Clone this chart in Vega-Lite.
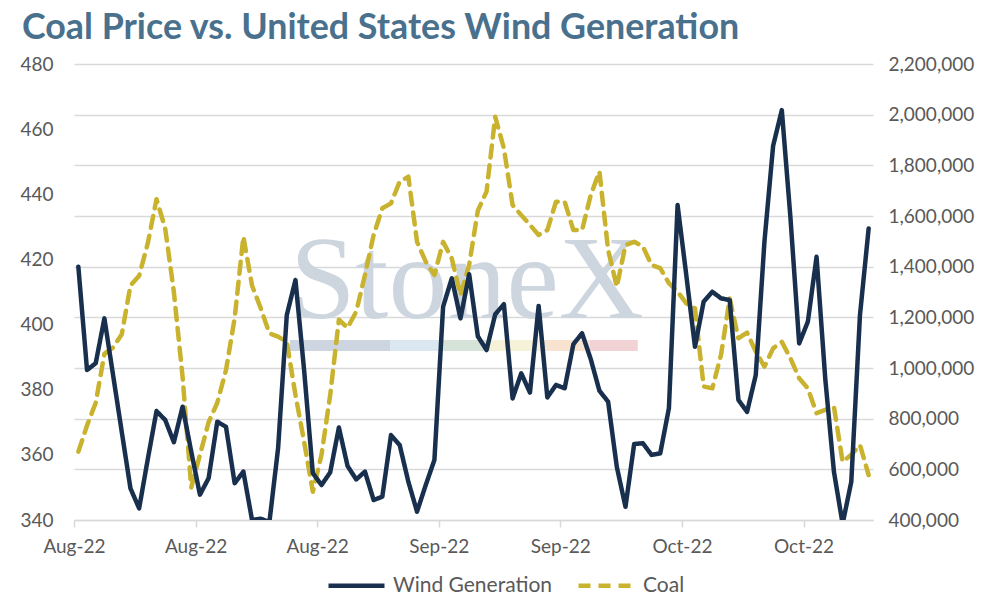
{
  "$schema": "https://vega.github.io/schema/vega-lite/v6.json",
  "width": 799,
  "height": 456,
  "autosize": "none",
  "padding": {"left": 74, "top": 64, "right": 121, "bottom": 80},
  "background": "white",
  "config": {
    "font": "Lato",
    "view": {"stroke": null},
    "axis": {"labelFont": "Lato", "labelFontSize": 19, "labelColor": "#595959"}
  },
  "title": {
    "text": "Coal Price vs. United States Wind Generation",
    "anchor": "start",
    "frame": "group",
    "dx": -52,
    "dy": 30,
    "offset": 10,
    "baseline": "alphabetic",
    "font": "Lato",
    "fontSize": 35.8,
    "fontWeight": "bold",
    "color": "#49708c"
  },
  "data": {
    "values": [
      {"date": "2022-08-01", "wind": 1400000, "coal": 361},
      {"date": "2022-08-02", "wind": 992000, "coal": 369},
      {"date": "2022-08-03", "wind": 1019000, "coal": 376},
      {"date": "2022-08-04", "wind": 1196000, "coal": 391},
      {"date": "2022-08-05", "wind": 972000, "coal": 393},
      {"date": "2022-08-06", "wind": 748000, "coal": 397},
      {"date": "2022-08-07", "wind": 525000, "coal": 412},
      {"date": "2022-08-08", "wind": 446000, "coal": 415},
      {"date": "2022-08-09", "wind": 641000, "coal": 425},
      {"date": "2022-08-10", "wind": 830000, "coal": 438.5},
      {"date": "2022-08-11", "wind": 795000, "coal": 429.5},
      {"date": "2022-08-12", "wind": 707000, "coal": 410},
      {"date": "2022-08-13", "wind": 847000, "coal": 384},
      {"date": "2022-08-14", "wind": 670000, "coal": 350},
      {"date": "2022-08-15", "wind": 500000, "coal": 360},
      {"date": "2022-08-16", "wind": 565000, "coal": 370},
      {"date": "2022-08-17", "wind": 788000, "coal": 376},
      {"date": "2022-08-18", "wind": 768000, "coal": 386},
      {"date": "2022-08-19", "wind": 545000, "coal": 402},
      {"date": "2022-08-20", "wind": 591000, "coal": 427},
      {"date": "2022-08-21", "wind": 400000, "coal": 412},
      {"date": "2022-08-22", "wind": 405000, "coal": 405},
      {"date": "2022-08-23", "wind": 392000, "coal": 397.3},
      {"date": "2022-08-24", "wind": 683000, "coal": 396.3},
      {"date": "2022-08-25", "wind": 1209000, "coal": 394.7},
      {"date": "2022-08-26", "wind": 1347000, "coal": 378.4},
      {"date": "2022-08-27", "wind": 990000, "coal": 364},
      {"date": "2022-08-28", "wind": 585000, "coal": 348.7},
      {"date": "2022-08-29", "wind": 538000, "coal": 360},
      {"date": "2022-08-30", "wind": 588000, "coal": 378.4},
      {"date": "2022-08-31", "wind": 765000, "coal": 401.5},
      {"date": "2022-09-01", "wind": 613000, "coal": 399},
      {"date": "2022-09-02", "wind": 560000, "coal": 404},
      {"date": "2022-09-03", "wind": 591000, "coal": 415.2},
      {"date": "2022-09-04", "wind": 479000, "coal": 427.5},
      {"date": "2022-09-05", "wind": 492000, "coal": 435.7},
      {"date": "2022-09-06", "wind": 735000, "coal": 437.2},
      {"date": "2022-09-07", "wind": 696000, "coal": 443.9},
      {"date": "2022-09-08", "wind": 551000, "coal": 445.4},
      {"date": "2022-09-09", "wind": 433000, "coal": 425.4},
      {"date": "2022-09-10", "wind": 538000, "coal": 419.3},
      {"date": "2022-09-11", "wind": 637000, "coal": 415.2},
      {"date": "2022-09-12", "wind": 1242000, "coal": 425.4},
      {"date": "2022-09-13", "wind": 1354000, "coal": 420.3},
      {"date": "2022-09-14", "wind": 1196000, "coal": 409},
      {"date": "2022-09-15", "wind": 1370000, "coal": 418.3},
      {"date": "2022-09-16", "wind": 1125000, "coal": 435},
      {"date": "2022-09-17", "wind": 1071000, "coal": 440.8},
      {"date": "2022-09-18", "wind": 1212000, "coal": 463.8},
      {"date": "2022-09-19", "wind": 1252000, "coal": 454.1},
      {"date": "2022-09-20", "wind": 880000, "coal": 436.7},
      {"date": "2022-09-21", "wind": 979000, "coal": 433.6},
      {"date": "2022-09-22", "wind": 903000, "coal": 430.6},
      {"date": "2022-09-23", "wind": 1245000, "coal": 427.5},
      {"date": "2022-09-24", "wind": 884000, "coal": 429},
      {"date": "2022-09-25", "wind": 933000, "coal": 437.7},
      {"date": "2022-09-26", "wind": 920000, "coal": 437.7},
      {"date": "2022-09-27", "wind": 1094000, "coal": 429},
      {"date": "2022-09-28", "wind": 1137000, "coal": 429},
      {"date": "2022-09-29", "wind": 1035000, "coal": 439.8},
      {"date": "2022-09-30", "wind": 910000, "coal": 447},
      {"date": "2022-10-01", "wind": 867000, "coal": 422.9},
      {"date": "2022-10-02", "wind": 610000, "coal": 411.6},
      {"date": "2022-10-03", "wind": 452000, "coal": 424.4},
      {"date": "2022-10-04", "wind": 700000, "coal": 425.4},
      {"date": "2022-10-05", "wind": 703000, "coal": 424},
      {"date": "2022-10-06", "wind": 657000, "coal": 418.3},
      {"date": "2022-10-07", "wind": 663000, "coal": 417.3},
      {"date": "2022-10-08", "wind": 841000, "coal": 412.7},
      {"date": "2022-10-09", "wind": 1643000, "coal": 410.1},
      {"date": "2022-10-10", "wind": 1367000, "coal": 406.5},
      {"date": "2022-10-11", "wind": 1084000, "coal": 405},
      {"date": "2022-10-12", "wind": 1262000, "coal": 381},
      {"date": "2022-10-13", "wind": 1301000, "coal": 380.4},
      {"date": "2022-10-14", "wind": 1275000, "coal": 390.7},
      {"date": "2022-10-15", "wind": 1268000, "coal": 408},
      {"date": "2022-10-16", "wind": 874000, "coal": 395.8},
      {"date": "2022-10-17", "wind": 827000, "coal": 397.5},
      {"date": "2022-10-18", "wind": 972000, "coal": 391.7},
      {"date": "2022-10-19", "wind": 1499000, "coal": 387.1},
      {"date": "2022-10-20", "wind": 1877000, "coal": 392.7},
      {"date": "2022-10-21", "wind": 2018000, "coal": 394.7},
      {"date": "2022-10-22", "wind": 1591000, "coal": 389.6},
      {"date": "2022-10-23", "wind": 1097000, "coal": 383.5},
      {"date": "2022-10-24", "wind": 1183000, "coal": 380.4},
      {"date": "2022-10-25", "wind": 1439000, "coal": 372.8},
      {"date": "2022-10-26", "wind": 959000, "coal": 373.8},
      {"date": "2022-10-27", "wind": 591000, "coal": 374.8},
      {"date": "2022-10-28", "wind": 385000, "coal": 357.9},
      {"date": "2022-10-29", "wind": 551000, "coal": 360},
      {"date": "2022-10-30", "wind": 1209000, "coal": 363},
      {"date": "2022-10-31", "wind": 1551000, "coal": 353.8}
    ]
  },
  "layer": [
    {
      "layer": [
        {
          "data": {"values": [{}]},
          "mark": {"type": "text", "text": "StoneX", "font": "Liberation Serif", "fontSize": 118, "color": "#cdd6df", "align": "center", "baseline": "alphabetic"},
          "encoding": {
            "x": {
              "datum": {"year": 2022, "month": 9, "date": 15, "hours": 6, "utc": true},
              "type": "temporal",
              "scale": {"type": "utc", "domain": [{"year": 2022, "month": 8, "date": 1, "utc": true}, {"year": 2022, "month": 11, "date": 1, "utc": true}]},
              "axis": {"values": [{"year": 2022, "month": 8, "date": 1, "utc": true}, {"year": 2022, "month": 8, "date": 15, "utc": true}, {"year": 2022, "month": 8, "date": 29, "utc": true}, {"year": 2022, "month": 9, "date": 12, "utc": true}, {"year": 2022, "month": 9, "date": 26, "utc": true}, {"year": 2022, "month": 10, "date": 10, "utc": true}, {"year": 2022, "month": 10, "date": 24, "utc": true}], "labelExpr": "utcFormat(datum.value, '%b-%y')", "grid": false, "domainColor": "#d9d9d9", "domainWidth": 1.5, "tickColor": "#d9d9d9", "tickSize": 7, "tickWidth": 1.5, "labelPadding": 10, "labelFlush": false, "labelOverlap": false, "title": null}
            },
            "y": {
              "datum": 402,
              "type": "quantitative",
              "scale": {"domain": [340, 480], "nice": false, "zero": false},
              "axis": {"orient": "left", "values": [340, 360, 380, 400, 420, 440, 460, 480], "grid": false, "domain": false, "ticks": false, "tickSize": 0, "labelPadding": 21, "title": null}
            }
          }
        },
        {
          "data": {"values": [{}]},
          "mark": {
            "type": "rect",
            "color": {
              "gradient": "linear", "x1": 0, "x2": 1, "y1": 0, "y2": 0,
              "stops": [
                {"offset": 0, "color": "#ccd5e0"}, {"offset": 0.287, "color": "#ccd5e0"},
                {"offset": 0.287, "color": "#dbe8f2"}, {"offset": 0.431, "color": "#dbe8f2"},
                {"offset": 0.431, "color": "#d5e3d8"}, {"offset": 0.575, "color": "#d5e3d8"},
                {"offset": 0.575, "color": "#f6f2d8"}, {"offset": 0.718, "color": "#f6f2d8"},
                {"offset": 0.718, "color": "#f8e3d0"}, {"offset": 0.862, "color": "#f8e3d0"},
                {"offset": 0.862, "color": "#f1d3d5"}, {"offset": 1, "color": "#f1d3d5"}
              ]
            }
          },
          "encoding": {
            "x": {
              "datum": {"year": 2022, "month": 8, "date": 25, "hours": 21, "utc": true},
              "type": "temporal",
              "scale": {"type": "utc", "domain": [{"year": 2022, "month": 8, "date": 1, "utc": true}, {"year": 2022, "month": 11, "date": 1, "utc": true}]},
              "axis": {"values": [{"year": 2022, "month": 8, "date": 1, "utc": true}, {"year": 2022, "month": 8, "date": 15, "utc": true}, {"year": 2022, "month": 8, "date": 29, "utc": true}, {"year": 2022, "month": 9, "date": 12, "utc": true}, {"year": 2022, "month": 9, "date": 26, "utc": true}, {"year": 2022, "month": 10, "date": 10, "utc": true}, {"year": 2022, "month": 10, "date": 24, "utc": true}], "labelExpr": "utcFormat(datum.value, '%b-%y')", "grid": false, "domainColor": "#d9d9d9", "domainWidth": 1.5, "tickColor": "#d9d9d9", "tickSize": 7, "tickWidth": 1.5, "labelPadding": 10, "labelFlush": false, "labelOverlap": false, "title": null}
            },
            "x2": {"datum": {"year": 2022, "month": 10, "date": 4, "hours": 22, "utc": true}},
            "y": {
              "datum": 395.3,
              "type": "quantitative",
              "scale": {"domain": [340, 480], "nice": false, "zero": false},
              "axis": {"orient": "left", "values": [340, 360, 380, 400, 420, 440, 460, 480], "grid": false, "domain": false, "ticks": false, "tickSize": 0, "labelPadding": 21, "title": null}
            },
            "y2": {"datum": 391.9}
          }
        },
        {
          "transform": [{"fold": ["coal"], "as": ["series", "value"]}],
          "mark": {"type": "line", "strokeWidth": 4.5, "strokeCap": "round", "strokeJoin": "round", "clip": true},
          "encoding": {
            "x": {
              "field": "date",
              "timeUnit": "utcyearmonthdate",
              "type": "temporal",
              "bandPosition": 0.5,
              "scale": {"type": "utc", "domain": [{"year": 2022, "month": 8, "date": 1, "utc": true}, {"year": 2022, "month": 11, "date": 1, "utc": true}]},
              "axis": {"values": [{"year": 2022, "month": 8, "date": 1, "utc": true}, {"year": 2022, "month": 8, "date": 15, "utc": true}, {"year": 2022, "month": 8, "date": 29, "utc": true}, {"year": 2022, "month": 9, "date": 12, "utc": true}, {"year": 2022, "month": 9, "date": 26, "utc": true}, {"year": 2022, "month": 10, "date": 10, "utc": true}, {"year": 2022, "month": 10, "date": 24, "utc": true}], "labelExpr": "utcFormat(datum.value, '%b-%y')", "grid": false, "domainColor": "#d9d9d9", "domainWidth": 1.5, "tickColor": "#d9d9d9", "tickSize": 7, "tickWidth": 1.5, "labelPadding": 10, "labelFlush": false, "labelOverlap": false, "title": null}
            },
            "y": {
              "field": "value",
              "type": "quantitative",
              "scale": {"domain": [340, 480], "nice": false, "zero": false},
              "axis": {"orient": "left", "values": [340, 360, 380, 400, 420, 440, 460, 480], "grid": false, "domain": false, "ticks": false, "tickSize": 0, "labelPadding": 21, "title": null}
            },
            "color": {
              "field": "series",
              "type": "nominal",
              "scale": {"domain": ["wind", "coal"], "range": ["#18304e", "#c9b22e"]},
              "legend": {"title": null, "orient": "none", "legendX": 252, "legendY": 491, "direction": "horizontal", "symbolType": "stroke", "symbolSize": 3136, "symbolStrokeWidth": 4.5, "labelFont": "Lato", "labelFontSize": 21, "labelColor": "#595959", "labelOffset": 6, "columnPadding": 16, "labelExpr": "datum.value == 'wind' ? 'Wind Generation' : 'Coal'"}
            },
            "strokeDash": {
              "field": "series",
              "type": "nominal",
              "scale": {"domain": ["wind", "coal"], "range": [[1, 0], [12, 8]]},
              "legend": {"title": null, "orient": "none", "legendX": 252, "legendY": 491, "direction": "horizontal", "symbolType": "stroke", "symbolSize": 3136, "symbolStrokeWidth": 4.5, "labelFont": "Lato", "labelFontSize": 21, "labelColor": "#595959", "labelOffset": 6, "columnPadding": 16, "labelExpr": "datum.value == 'wind' ? 'Wind Generation' : 'Coal'"}
            }
          }
        }
      ]
    },
    {
      "transform": [{"fold": ["wind"], "as": ["series", "value"]}],
      "mark": {"type": "line", "strokeWidth": 4.5, "strokeCap": "round", "strokeJoin": "round", "clip": true},
      "encoding": {
        "x": {
          "field": "date",
          "timeUnit": "utcyearmonthdate",
          "type": "temporal",
          "bandPosition": 0.5,
          "scale": {"type": "utc", "domain": [{"year": 2022, "month": 8, "date": 1, "utc": true}, {"year": 2022, "month": 11, "date": 1, "utc": true}]},
          "axis": {"values": [{"year": 2022, "month": 8, "date": 1, "utc": true}, {"year": 2022, "month": 8, "date": 15, "utc": true}, {"year": 2022, "month": 8, "date": 29, "utc": true}, {"year": 2022, "month": 9, "date": 12, "utc": true}, {"year": 2022, "month": 9, "date": 26, "utc": true}, {"year": 2022, "month": 10, "date": 10, "utc": true}, {"year": 2022, "month": 10, "date": 24, "utc": true}], "labelExpr": "utcFormat(datum.value, '%b-%y')", "grid": false, "domainColor": "#d9d9d9", "domainWidth": 1.5, "tickColor": "#d9d9d9", "tickSize": 7, "tickWidth": 1.5, "labelPadding": 10, "labelFlush": false, "labelOverlap": false, "title": null}
        },
        "y": {
          "field": "value",
          "type": "quantitative",
          "scale": {"domain": [400000, 2200000], "nice": false, "zero": false},
          "axis": {"orient": "right", "values": [400000, 600000, 800000, 1000000, 1200000, 1400000, 1600000, 1800000, 2000000, 2200000], "labelExpr": "format(datum.value, ',')", "grid": true, "gridColor": "#d9d9d9", "gridWidth": 1.5, "domain": false, "ticks": false, "tickSize": 0, "labelPadding": 15, "title": null}
        },
        "color": {
          "field": "series",
          "type": "nominal",
          "scale": {"domain": ["wind", "coal"], "range": ["#18304e", "#c9b22e"]},
          "legend": {"title": null, "orient": "none", "legendX": 252, "legendY": 491, "direction": "horizontal", "symbolType": "stroke", "symbolSize": 3136, "symbolStrokeWidth": 4.5, "labelFont": "Lato", "labelFontSize": 21, "labelColor": "#595959", "labelOffset": 6, "columnPadding": 16, "labelExpr": "datum.value == 'wind' ? 'Wind Generation' : 'Coal'"}
        },
        "strokeDash": {
          "field": "series",
          "type": "nominal",
          "scale": {"domain": ["wind", "coal"], "range": [[1, 0], [12, 8]]},
          "legend": {"title": null, "orient": "none", "legendX": 252, "legendY": 491, "direction": "horizontal", "symbolType": "stroke", "symbolSize": 3136, "symbolStrokeWidth": 4.5, "labelFont": "Lato", "labelFontSize": 21, "labelColor": "#595959", "labelOffset": 6, "columnPadding": 16, "labelExpr": "datum.value == 'wind' ? 'Wind Generation' : 'Coal'"}
        }
      }
    }
  ],
  "resolve": {"scale": {"y": "independent"}}
}
